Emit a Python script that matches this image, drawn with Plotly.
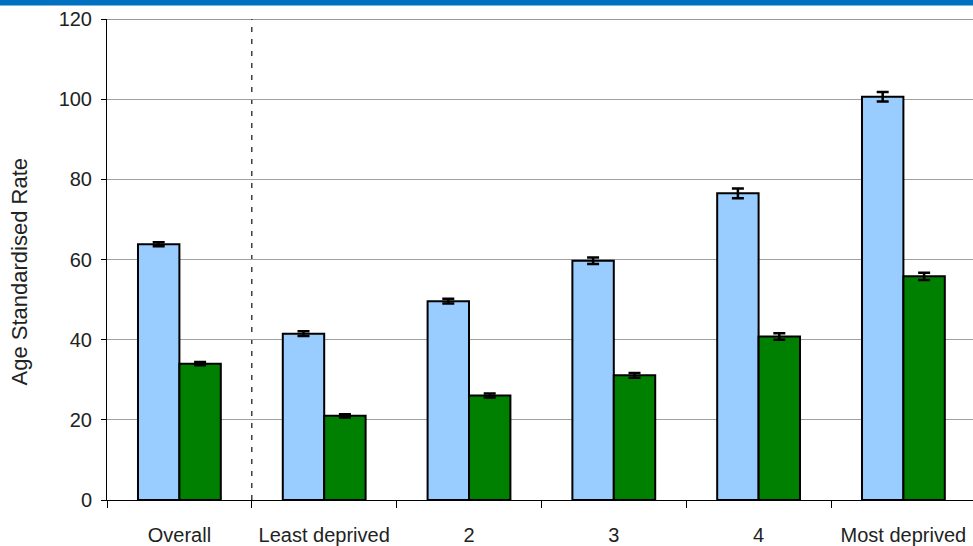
import plotly.graph_objects as go

# Age standardised rates by deprivation quintile
categories = ["Overall", "Least deprived", "2", "3", "4", "Most deprived"]
rate_a = [63.8, 41.5, 49.6, 59.7, 76.5, 100.6]
err_a = [0.5, 0.6, 0.6, 0.8, 1.2, 1.2]
rate_b = [34.0, 21.0, 26.1, 31.1, 40.8, 55.8]
err_b = [0.4, 0.4, 0.5, 0.6, 0.8, 0.9]
y_ticks = [0, 20, 40, 60, 80, 100, 120]

W, H = 973, 546
ML, MR, MT, MB = 107, 0, 19, 46
PW, PH = W - ML - MR, H - MT - MB
CAT_PX = 144.8

text_col = "#222222"
font = dict(family="Liberation Sans, Arial, sans-serif", size=20, color=text_col)

fig = go.Figure()
fig.add_trace(go.Bar(
    x=categories, y=rate_a, name="A",
    marker=dict(color="#99CCFF", line=dict(color="black", width=2)),
    error_y=dict(type="data", array=err_a, visible=True, color="black",
                 thickness=2.5, width=6),
))
fig.add_trace(go.Bar(
    x=categories, y=rate_b, name="B",
    marker=dict(color="#008000", line=dict(color="black", width=2)),
    error_y=dict(type="data", array=err_b, visible=True, color="black",
                 thickness=2.5, width=6),
))

def px_to_paper_y(py):
    return (H - MB - py) / PH

fig.update_layout(
    width=W, height=H,
    margin=dict(l=ML, r=MR, t=MT, b=MB, pad=0),
    paper_bgcolor="white", plot_bgcolor="white",
    barmode="group", bargap=0.428, bargroupgap=0,
    showlegend=False,
    font=font,
    xaxis=dict(
        type="category",
        range=[-0.5, -0.5 + PW / CAT_PX],
        showline=True, linecolor="black", linewidth=1,
        ticks="outside", tickson="boundaries", ticklen=7,
        tickcolor="black", tickwidth=1,
        ticklabelstandoff=17,
        showgrid=False, zeroline=False,
        tickfont=font,
    ),
    yaxis=dict(
        range=[0, 120],
        tickvals=y_ticks,
        showline=True, linecolor="black", linewidth=1,
        ticks="outside", ticklen=5, tickcolor="black", tickwidth=1,
        ticklabelstandoff=5,
        showgrid=True, gridcolor="#A0A0A0", gridwidth=1,
        zeroline=False,
        tickfont=font,
    ),
    shapes=[
        # separator between the overall bar pair and the quintiles
        dict(type="line", xref="x", yref="y", x0=0.5, x1=0.5, y0=0, y1=120,
             line=dict(color="#222222", width=1.3, dash="5px,7px"), layer="below"),
        # top frame line
        dict(type="line", xref="paper", yref="y", x0=0, x1=1, y0=120, y1=120,
             line=dict(color="#333333", width=1)),
        # header band
        dict(type="rect", xref="paper", yref="paper",
             x0=-ML / PW - 0.01, x1=1.01,
             y0=px_to_paper_y(5.5), y1=px_to_paper_y(-2),
             fillcolor="#0070C0", line=dict(width=0)),
    ],
    annotations=[
        dict(text="Age Standardised Rate", textangle=-90,
             xref="paper", yref="paper",
             x=(18.5 - ML) / PW, y=px_to_paper_y(272),
             xanchor="center", yanchor="middle", showarrow=False,
             font=dict(family="Liberation Sans, Arial, sans-serif", size=22,
                       color=text_col)),
    ],
)

fig.write_html("out.html")
